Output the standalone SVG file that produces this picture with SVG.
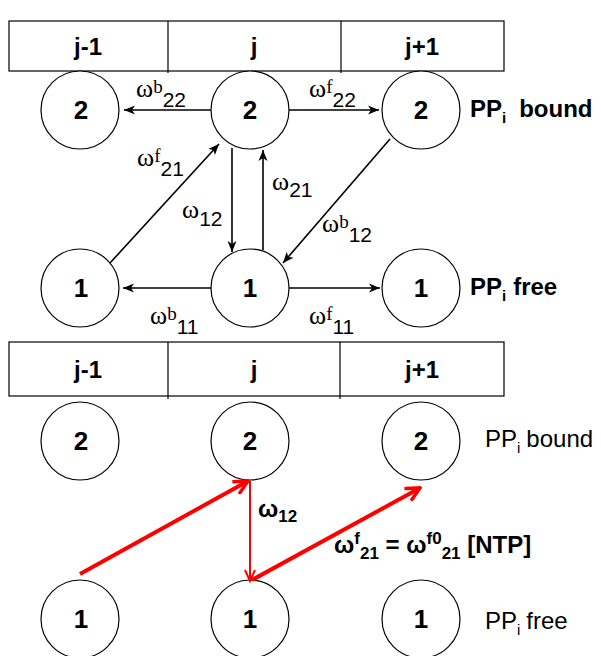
<svg xmlns="http://www.w3.org/2000/svg" width="601" height="656" viewBox="0 0 601 656">
<style>
.tbl{fill:#fff;stroke:#000;stroke-width:1.2}
.div{stroke:#000;stroke-width:1.2}
.th{font-family:"Liberation Sans",Arial,sans-serif;font-weight:bold;font-size:24px;text-anchor:middle}
.node circle{fill:#fff;stroke:#000;stroke-width:1.2}
.node text{font-family:"Liberation Sans",Arial,sans-serif;font-weight:bold;font-size:26px;text-anchor:middle}
.lbl{font-family:"Liberation Sans",Arial,sans-serif;font-size:24px}
.lbn{font-family:"Liberation Sans",Arial,sans-serif;font-size:24px}
.b{font-weight:bold}
.w{font-family:"Liberation Serif","Times New Roman",serif;font-size:26px}
.sup{font-family:"Liberation Serif","Times New Roman",serif;font-size:19px}
.sub{font-family:"Liberation Sans",Arial,sans-serif;font-size:21px}
.wb{font-family:"Liberation Sans",Arial,sans-serif;font-weight:bold;font-size:24px}
.sb{font-size:17px}
.ar{stroke:#000;stroke-width:1.6;fill:none}
.red{stroke:#f00;fill:none}
</style>
<defs>
<marker id="ah" markerWidth="12" markerHeight="10" refX="11" refY="5" orient="auto" markerUnits="userSpaceOnUse">
<path d="M0,0.5 L11,5 L0,9.5 L3,5 z" fill="#000"/>
</marker>
<marker id="rh" markerWidth="18" markerHeight="16" refX="16" refY="8" orient="auto" markerUnits="userSpaceOnUse">
<path d="M2,1 L16,8 L2,15" fill="none" stroke="#f00" stroke-width="3.5"/>
</marker>
<marker id="rh2" markerWidth="14" markerHeight="12" refX="12" refY="6" orient="auto" markerUnits="userSpaceOnUse">
<path d="M1,1 L12,6 L1,11" fill="none" stroke="#f00" stroke-width="2"/>
</marker>
</defs>

<g id="table-top">
<rect class="tbl" x="9" y="21" width="495" height="50"/>
<line class="div" x1="168" y1="21" x2="168" y2="73"/>
<line class="div" x1="341" y1="21" x2="341" y2="73"/>
<text class="th" x="88" y="55">j-1</text>
<text class="th" x="254" y="55">j</text>
<text class="th" x="422" y="55">j+1</text>
</g>

<g id="t-2-left" class="node"><circle cx="80" cy="110" r="39"/><text x="81" y="119">2</text></g>
<g id="t-2-mid" class="node"><circle cx="250" cy="110" r="39"/><text x="250" y="119">2</text></g>
<g id="t-2-right" class="node"><circle cx="421" cy="110" r="39"/><text x="421" y="119">2</text></g>
<g id="t-1-left" class="node"><circle cx="80" cy="288" r="39"/><text x="81" y="297">1</text></g>
<g id="t-1-mid" class="node"><circle cx="250" cy="288" r="39"/><text x="250" y="297">1</text></g>
<g id="t-1-right" class="node"><circle cx="421" cy="288" r="39"/><text x="421" y="297">1</text></g>

<text class="lbl b" x="470" y="117">PP<tspan font-size="15" dy="6">i</tspan><tspan dx="13" dy="-6">bound</tspan></text>
<text class="lbl b" x="470" y="295">PP<tspan font-size="15" dy="6">i</tspan><tspan dx="7" dy="-6">free</tspan></text>

<g id="connectors-top">
<line class="ar" x1="211" y1="110" x2="124" y2="110" marker-end="url(#ah)"/>
<line class="ar" x1="289" y1="110" x2="379" y2="110" marker-end="url(#ah)"/>
<line class="ar" x1="110" y1="263" x2="219" y2="144" marker-end="url(#ah)"/>
<line class="ar" x1="232" y1="148" x2="232" y2="252" marker-end="url(#ah)"/>
<line class="ar" x1="263" y1="250" x2="263" y2="150" marker-end="url(#ah)"/>
<line class="ar" x1="390" y1="139" x2="283" y2="263" marker-end="url(#ah)"/>
<line class="ar" x1="211" y1="288" x2="123" y2="288" marker-end="url(#ah)"/>
<line class="ar" x1="289" y1="288" x2="380" y2="288" marker-end="url(#ah)"/>
</g>

<g id="labels-top">
<text class="w" x="136" y="97">ω<tspan class="sup" dy="-4">b</tspan><tspan class="sub" dy="14">22</tspan></text>
<text class="w" x="309" y="97">ω<tspan class="sup" dy="-4">f</tspan><tspan class="sub" dy="14">22</tspan></text>
<text class="w" x="137" y="166">ω<tspan class="sup" dy="-4">f</tspan><tspan class="sub" dy="14">21</tspan></text>
<text class="w" x="182" y="218">ω<tspan class="sub" dy="8">12</tspan></text>
<text class="w" x="272" y="190">ω<tspan class="sub" dy="7">21</tspan></text>
<text class="w" x="322" y="232">ω<tspan class="sup" dy="-4">b</tspan><tspan class="sub" dy="14">12</tspan></text>
<text class="w" x="150" y="324">ω<tspan class="sup" dy="-4">b</tspan><tspan class="sub" dy="14">11</tspan></text>
<text class="w" x="309" y="324">ω<tspan class="sup" dy="-4">f</tspan><tspan class="sub" dy="14">11</tspan></text>
</g>

<g id="table-bottom">
<rect class="tbl" x="9" y="342" width="495" height="54"/>
<line class="div" x1="168" y1="342" x2="168" y2="399"/>
<line class="div" x1="340" y1="342" x2="340" y2="399"/>
<text class="th" x="88" y="378">j-1</text>
<text class="th" x="254" y="378">j</text>
<text class="th" x="422" y="378">j+1</text>
</g>

<g id="b-2-left" class="node"><circle cx="80" cy="441" r="39"/><text x="81" y="450">2</text></g>
<g id="b-2-mid" class="node"><circle cx="250" cy="441" r="39"/><text x="250" y="450">2</text></g>
<g id="b-2-right" class="node"><circle cx="421" cy="441" r="39"/><text x="421" y="450">2</text></g>
<g id="b-1-left" class="node"><circle cx="80" cy="619" r="39"/><text x="81" y="628">1</text></g>
<g id="b-1-mid" class="node"><circle cx="250" cy="619" r="39"/><text x="250" y="628">1</text></g>
<g id="b-1-right" class="node"><circle cx="421" cy="619" r="39"/><text x="421" y="628">1</text></g>

<text class="lbn" x="485" y="447">PP<tspan font-size="15" dy="6">i</tspan><tspan dx="6" dy="-6">bound</tspan></text>
<text class="lbn" x="485" y="629">PP<tspan font-size="15" dy="6">i</tspan><tspan dx="6" dy="-6">free</tspan></text>

<g id="connectors-bottom">
<line class="red" stroke-width="4" x1="80" y1="574" x2="248" y2="481" marker-end="url(#rh)"/>
<line class="red" stroke-width="2" x1="250" y1="481" x2="250" y2="581" marker-end="url(#rh2)"/>
<line class="red" stroke-width="4" x1="252" y1="580" x2="420" y2="488" marker-end="url(#rh)"/>
</g>

<g id="labels-bottom">
<text class="wb" x="258" y="517">ω<tspan class="sb" dy="5">12</tspan></text>
<text class="wb" x="334" y="553">ω<tspan class="sb" dy="-9">f</tspan><tspan class="sb" dy="15">21</tspan><tspan dy="-6"> = ω</tspan><tspan class="sb" dy="-9">f0</tspan><tspan class="sb" dy="15">21</tspan><tspan dy="-6"> [NTP]</tspan></text>
</g>
</svg>
